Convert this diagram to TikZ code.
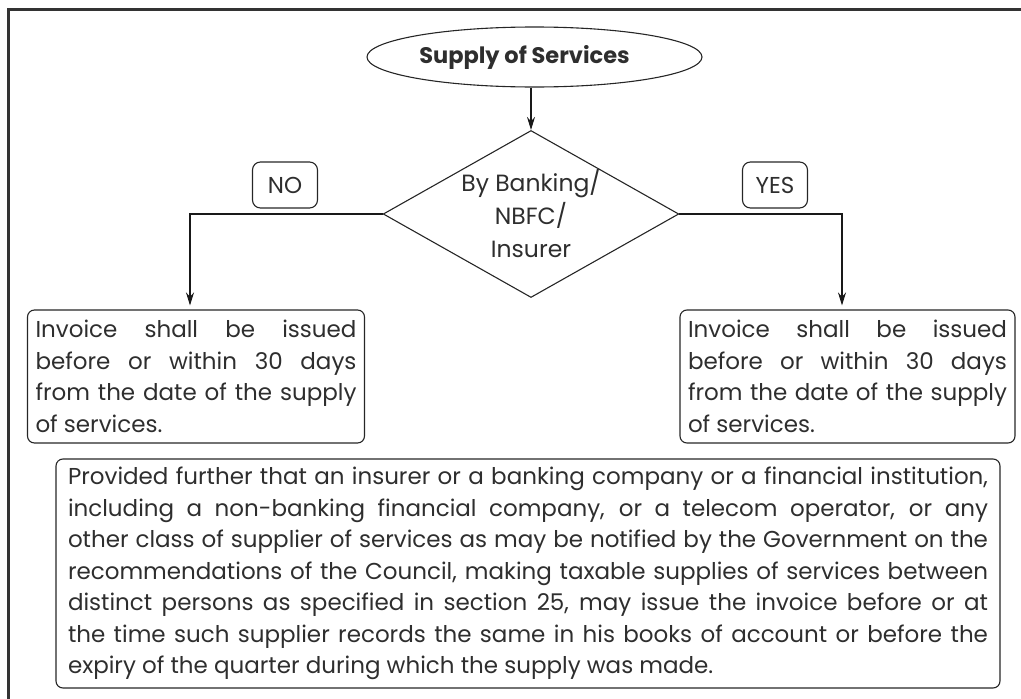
\documentclass[tikz,border=0pt]{standalone}
\usepackage{fontspec}
\setmainfont{Poppins}
\usetikzlibrary{shapes.geometric,arrows.meta}
\begin{document}
\begin{tikzpicture}[x=1pt,y=-1pt,
  line width=1.1pt,
  every node/.style={text=black!82},
  tbox/.style={draw=black!85, rounded corners=7pt, align=justify, inner xsep=8pt, inner ysep=0pt,
    minimum height=133pt, font=\fontsize{23}{31.5}\selectfont},
  lbl/.style={draw=black!85, rounded corners=8pt, minimum width=65pt, minimum height=46pt,
    inner sep=0pt, font=\fontsize{23}{26}\selectfont},
  arr/.style={draw=black!90, -{Stealth[length=13pt,width=8pt]}}]
\useasboundingbox (0,0) rectangle (1021,699);
\draw[line width=3pt, black!80] (1021,9) -- (8,9) -- (8,699);

\node[draw=black!85, ellipse, minimum width=335pt, minimum height=60pt, inner sep=0pt,
  font=\bfseries\fontsize{22.5}{28}\selectfont] (sup) at (534.5,57) {Supply of Services\hspace*{20pt}};

\node[draw=black!85, diamond, aspect=1.77, minimum width=283pt, minimum height=160pt, inner sep=0pt,
  align=center, font=\fontsize{23.5}{33}\selectfont] (dec) at (531,214) {By Banking/\\NBFC/\\Insurer};

\node[lbl] (no) at (285,185) {NO};
\node[lbl] (yes) at (775,185) {YES};

\node[tbox, text width=321pt] (left) at (196,376.5)
  {Invoice shall be issued\linebreak before or within 30 days\linebreak from the date of the supply\linebreak of services.};
\node[tbox, text width=319pt] (right) at (847.5,376.5)
  {Invoice shall be issued\linebreak before or within 30 days\linebreak from the date of the supply\linebreak of services.};

\node[tbox, text width=920pt, inner xsep=12pt, minimum height=229pt, minimum width=944pt] (prov) at (528,573.5)
  {Provided further that an insurer or a banking company or a financial institution,\linebreak
   including a non-banking financial company, or a telecom operator, or any\linebreak
   other class of supplier of services as may be notified by the Government on the\linebreak
   recommendations of the Council, making taxable supplies of services between\linebreak
   distinct persons as specified in section 25, may issue the invoice before or at\linebreak
   the time such supplier records the same in his books of account or before the\linebreak
   expiry of the quarter during which the supply was made.};

\draw[arr] (sup.south -| dec.north) -- (dec.north);
\draw[arr, shorten >=4pt] (dec.west) -| ([xshift=-6pt]left.north);
\draw[arr, shorten >=4pt] (dec.east) -| ([xshift=-5.5pt]right.north);
\end{tikzpicture}
\end{document}
